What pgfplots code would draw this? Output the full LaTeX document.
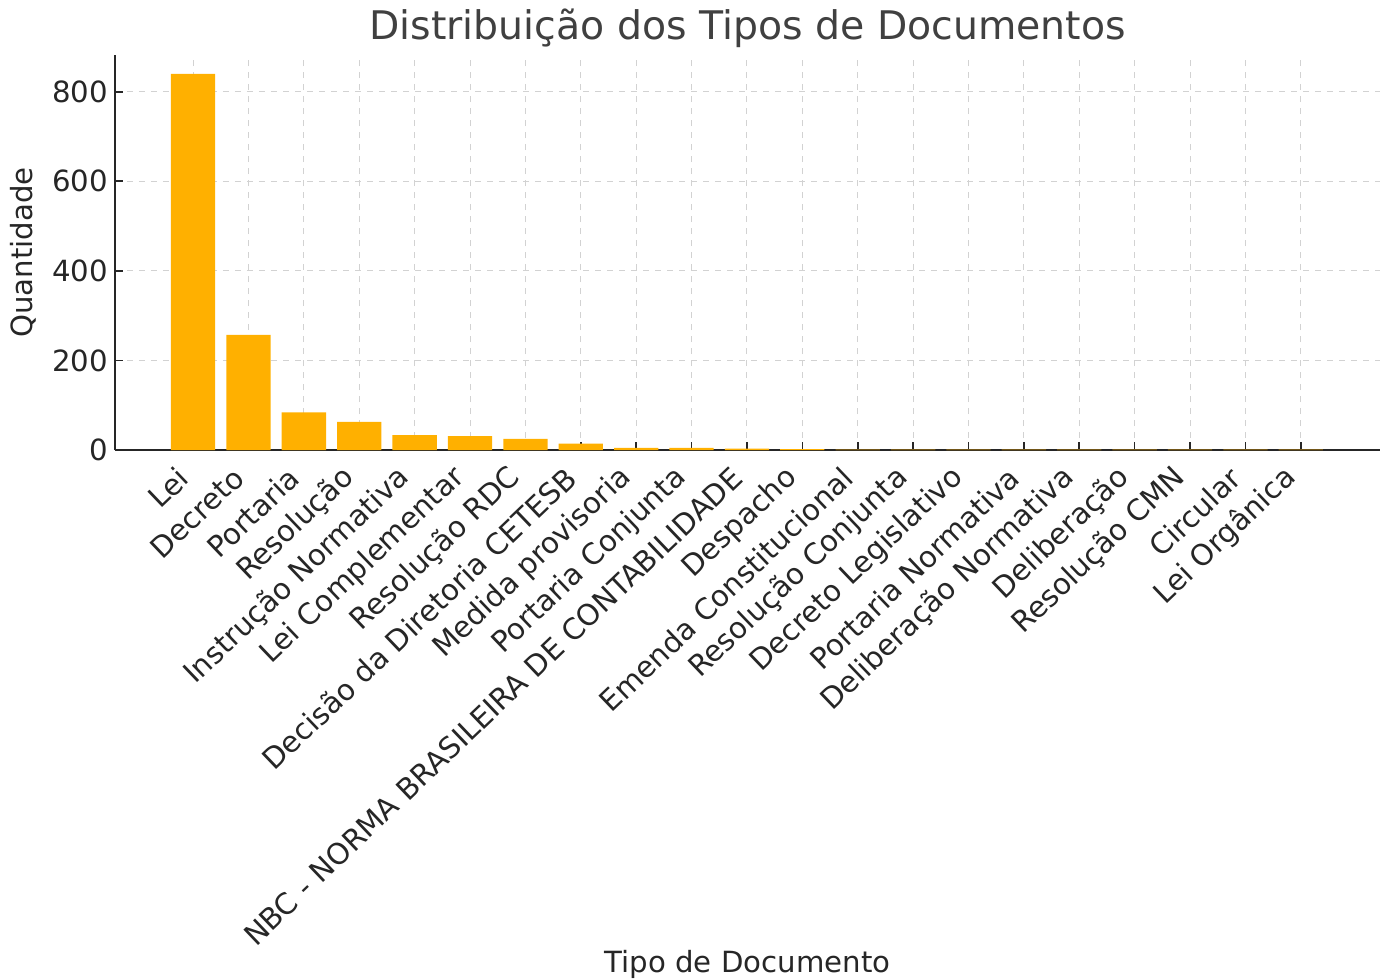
\documentclass[border=0pt]{standalone}
\usepackage{fontspec}
\setmainfont{DejaVu Sans}
\usepackage{pgfplots}
\pgfplotsset{compat=1.18}
\definecolor{baramber}{RGB}{255,176,0}
\definecolor{txt}{RGB}{38,38,38}
\definecolor{ttl}{RGB}{64,64,64}

\begin{document}
\begin{tikzpicture}
\begin{axis}[
    name=ax,
    scale only axis,
    width=632.5pt,
    height=197.5pt,
    ybar,
    bar width=0.8,
    xmin=-1.41, xmax=21.43,
    ymin=0, ymax=882,
    xtick={0,...,20},
    xticklabels={Lei,Decreto,Portaria,Resolução,Instrução Normativa,Lei Complementar,Resolução RDC,Decisão da Diretoria CETESB,Medida provisoria,Portaria Conjunta,NBC - NORMA BRASILEIRA DE CONTABILIDADE,Despacho,Emenda Constitucional,Resolução Conjunta,Decreto Legislativo,Portaria Normativa,Deliberação Normativa,Deliberação,Resolução CMN,Circular,Lei Orgânica},
    ytick={0,200,400,600,800},
    tick align=inside,
    major tick length=4pt,
    tick style={txt, line width=0.8pt},
    axis x line*=bottom,
    axis y line*=left,
    axis line style={txt, line width=1pt, -},
    grid=major,
    grid style={dashed, gray!35, line width=0.5pt},
    yticklabel style={font=\fontsize{14.6}{16}\selectfont, text=txt},
    xticklabel style={font=\fontsize{14.6}{16}\selectfont, text=txt,
        rotate=43.7, anchor=east, yshift=-5pt, xshift=-8pt},
    /pgf/number format/assume math mode=true,
    xlabel={Tipo de Documento},
    ylabel={Quantidade},
    label style={font=\fontsize{14.6}{16}\selectfont, text=txt},
    xlabel style={at={(axis description cs:0.5,-1.3215)}, anchor=base},
    ylabel style={at={(axis description cs:-0.0727,0.5)}, anchor=center},
    title={Distribuição dos Tipos de Documentos},
    title style={font=\fontsize{19.7}{22}\selectfont, text=ttl,
        at={(axis description cs:0.5,1.008)}, anchor=base},
]
\addplot[fill=baramber, draw=none] coordinates {
    (0,840) (1,257) (2,84) (3,63) (4,33) (5,31) (6,25) (7,14) (8,5) (9,5)
    (10,3) (11,2) (12,1) (13,1) (14,1) (15,1) (16,1) (17,1) (18,1) (19,1) (20,1)
};
\end{axis}
\pgfresetboundingbox
\path ([shift={(-57.5pt,-264.5pt)}]ax.south west) rectangle ([shift={(3pt,27.5pt)}]ax.north east);
\end{tikzpicture}
\end{document}
